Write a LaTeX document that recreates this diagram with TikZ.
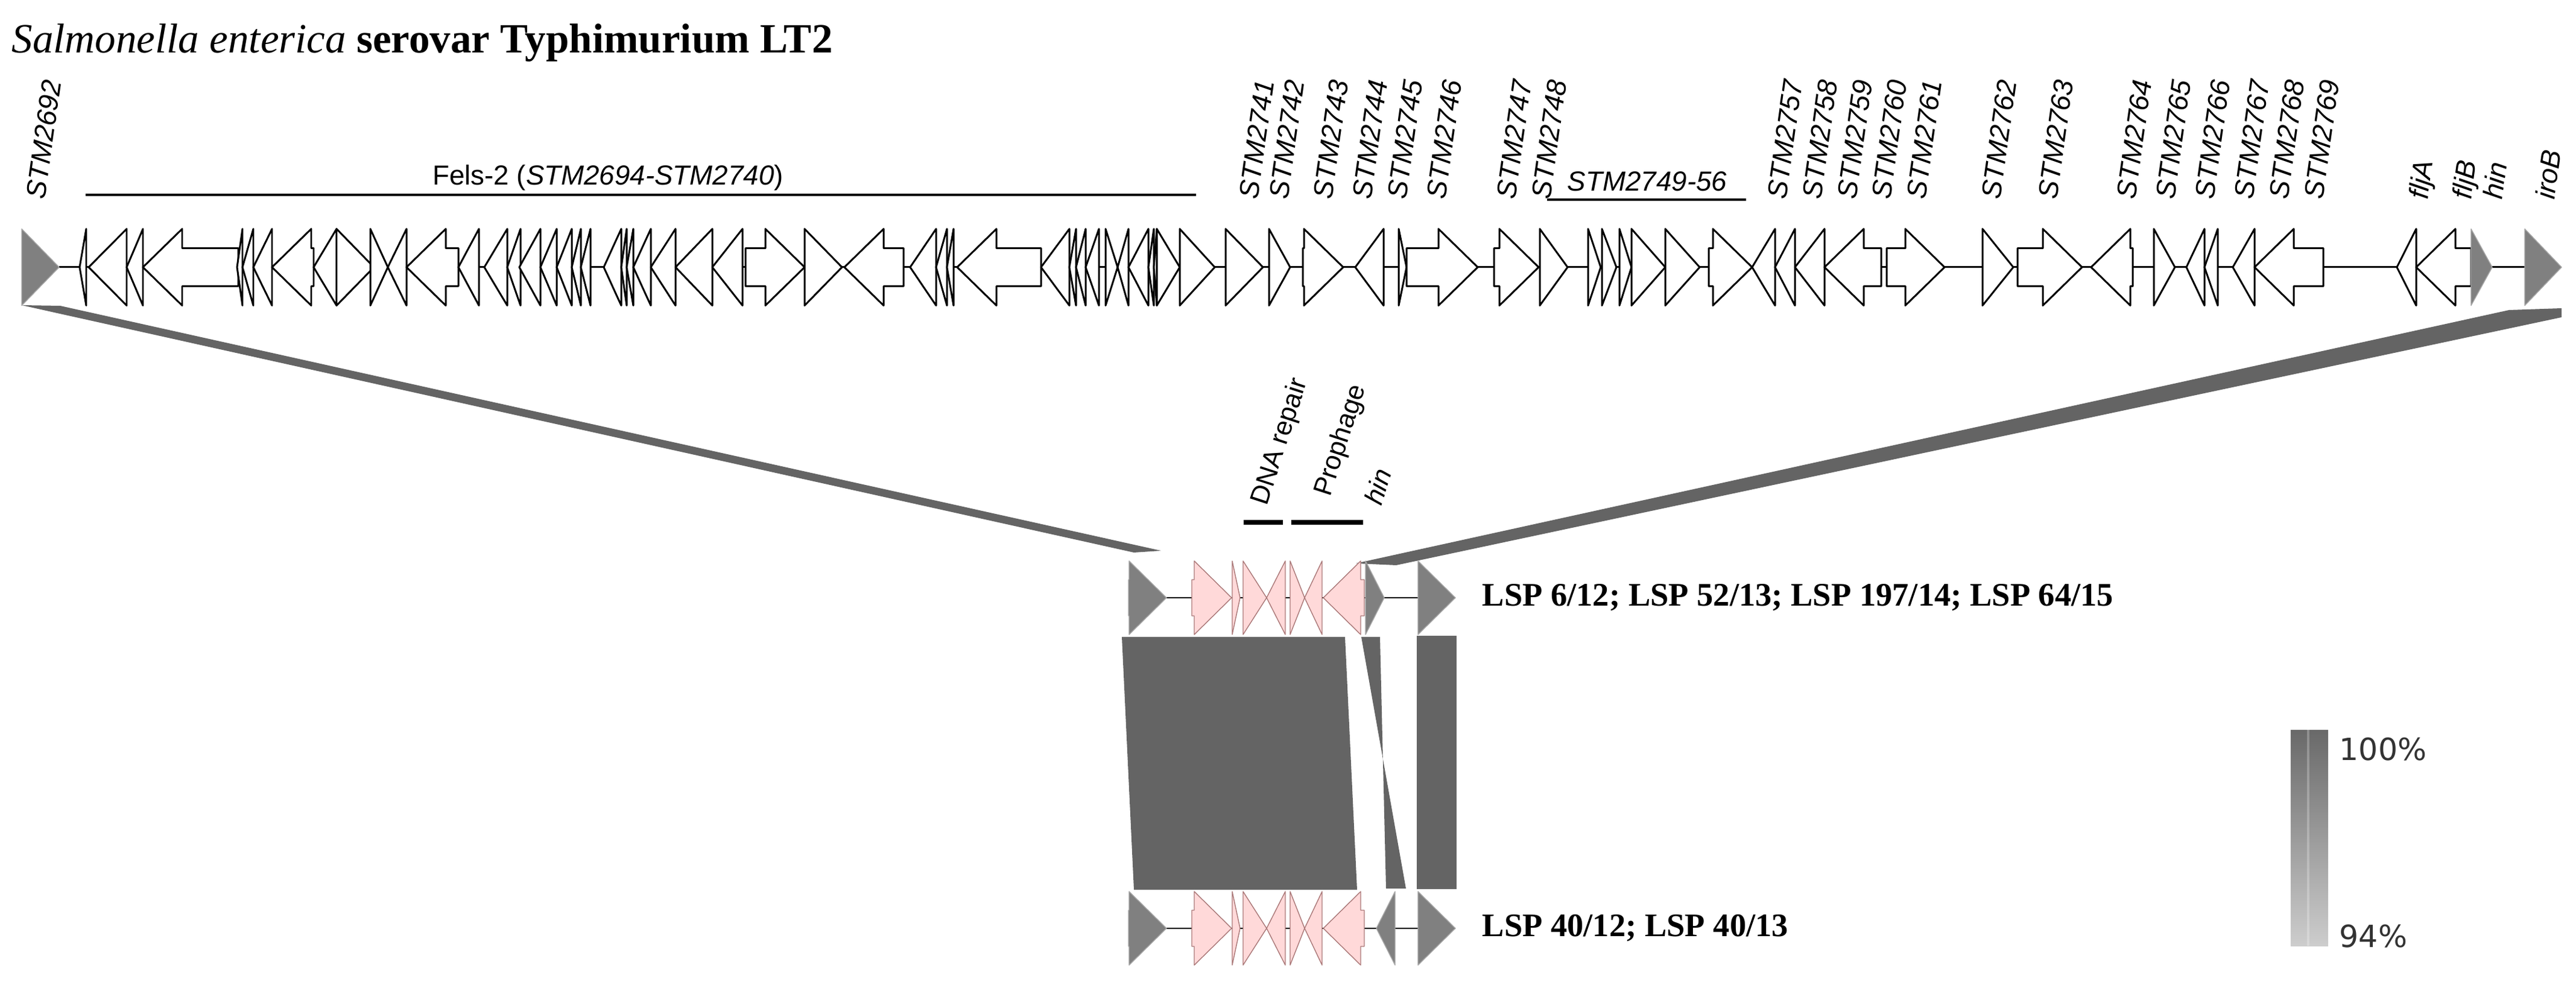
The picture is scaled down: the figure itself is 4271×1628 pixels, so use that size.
\documentclass[tikz,border=0pt]{standalone}
\usepackage{fontspec}
\setmainfont{Liberation Serif}
\setsansfont{Liberation Sans}
\newfontfamily\dejavu{DejaVu Sans}
\definecolor{pinkf}{RGB}{255,217,217}
\definecolor{pinkd}{RGB}{170,120,120}
\definecolor{blk}{RGB}{100,100,100}
\definecolor{greyg}{RGB}{128,128,128}
\tikzset{
  gen/.style={fill=white,draw=black,line width=0.85pt,line join=round},
  grey/.style={fill=greyg,draw=greyg!70,line width=0.4pt},
  pink/.style={fill=pinkf,draw=pinkd,line width=0.4pt},
  glab/.style={font=\fontsize{13}{15}\selectfont\sffamily\itshape,rotate=82,anchor=base west,inner sep=0pt},
  mlab/.style={font=\fontsize{12.5}{14}\selectfont\sffamily,rotate=72,anchor=base west,inner sep=0pt},
  lsp/.style={font=\fontsize{15.5}{18}\selectfont\bfseries,anchor=west,inner sep=0pt},
  band/.style={fill=blk,draw=none},
}
\newcommand\gene[5][]{%
  \pgfmathsetmacro\gL{#3-#2}\pgfmathsetmacro\gH{min(\gL,\hl)}%
  \if r#4
    \draw[gen,#1] (#2,#5-\gs) -- ({#3-\gH},#5-\gs) -- ({#3-\gH},#5-\gh) -- (#3,#5) -- ({#3-\gH},#5+\gh) -- ({#3-\gH},#5+\gs) -- (#2,#5+\gs) -- cycle;
  \else
    \draw[gen,#1] (#3,#5-\gs) -- ({#2+\gH},#5-\gs) -- ({#2+\gH},#5-\gh) -- (#2,#5) -- ({#2+\gH},#5+\gh) -- ({#2+\gH},#5+\gs) -- (#3,#5+\gs) -- cycle;
  \fi}
\begin{document}
\begin{tikzpicture}[x=0.01cm,y=-0.01cm]
\useasboundingbox (0,0) rectangle (4271,1628);
% title
\node[anchor=base west,inner sep=0pt] (title) at (19,88) {\resizebox{13.6cm}{!}{\textit{Salmonella enterica} \textbf{serovar Typhimurium LT2}}};
% bands
\fill[band] (36,506) -- (100,507) -- (1925,913) -- (1880,916) -- cycle;
\fill[band] (2248,934) -- (4160,514) -- (4247,511) -- (4247,526) -- (2315,937) -- cycle;
% top row
\draw[line width=0.85pt] (98,443) -- (4186,443);
\def\gh{63.5}\def\gs{31.5}\def\hl{65}
\gene[grey]{36}{98}{r}{443}
\foreach \a/\b/\d in {132/143/l,147/210/l,210/237/l,237/395/l,393/402/l,402/420/l,420/451/l,451/520/l,520/558/l,558/620/r,614/643/r,643/674/l,674/760/l,760/794/l,803/841/l,841/863/l,861/896/l,896/923/l,923/948/l,948/963/l,963/979/l,1001/1030/l,1030/1039/l,1039/1050/l,1050/1079/l,1079/1120/l,1120/1181/l,1181/1231/l,1236/1334/r,1334/1396/r,1400/1498/l,1509/1552/l,1552/1570/l,1570/1581/l,1587/1726/l,1726/1773/l,1773/1784/l,1784/1800/l,1800/1822/l,1833/1853/r,1853/1871/l,1871/1904/l,1904/1913/l,1913/1918/l,1918/1956/r,1956/2014/r,2032/2094/r,2104/2139/r,2160/2227/r,2247/2294/l,2319/2332/r,2332/2450/r,2477/2551/r,2553/2599/r,2633/2654/r,2656/2680/r,2685/2705/r,2705/2761/r,2761/2818/r,2833/2905/r,2905/2943/l,2943/2976/l,2976/3025/l,3025/3119/l,3128/3224/r,3287/3338/r,3345/3452/r,3467/3536/l,3571/3606/r,3625/3655/l,3655/3677/l,3702/3738/l,3738/3852/l,3974/4006/l,4006/4097/l}
  {\gene{\a}{\b}{\d}{443}}
\gene[grey]{4097}{4132}{r}{443}
\gene[grey]{4186}{4247}{r}{443}
% gene labels
\foreach \x/\t in {40/STM2692,2051/STM2741,2101/STM2742,2174/STM2743,2239/STM2744,2297/STM2745,2362/STM2746,2478/STM2747,2536/STM2748,2927/STM2757,2985/STM2758,3043/STM2759,3100/STM2760,3158/STM2761,3282/STM2762,3376/STM2763,3506/STM2764,3571/STM2765,3636/STM2766,3701/STM2767,3759/STM2768,3817/STM2769,3991/fljA,4063/fljB,4114/hin,4201/iroB}
  \node[glab] (l\t) at (\x+34,332) {\t};
\draw[line width=1.4pt] (142,323) -- (1983,323);
\node[font=\fontsize{13}{15}\selectfont\sffamily,anchor=base,inner sep=0pt] (fels) at (1008,307) {Fels-2 (\textit{STM2694-STM2740})};
\draw[line width=1.4pt] (2565,331) -- (2895,331);
\node[font=\fontsize{13}{15}\selectfont\sffamily\itshape,anchor=base,inner sep=0pt] (s4956) at (2731,317) {STM2749-56};
% middle labels
\node[mlab] (dna) at (2100,840) {DNA repair};
\node[mlab] (pro) at (2205,825) {Prophage};
\node[mlab,font=\fontsize{12.5}{14}\selectfont\sffamily\itshape] (hinl) at (2290,840) {hin};
\draw[line width=2pt] (2062,866) -- (2127,866);
\draw[line width=2pt] (2141,866) -- (2260,866);
% similarity blocks
\fill[blk] (1860,1056) -- (2230,1056) -- (2250,1475) -- (1880,1475) -- cycle;
\fill[blk] (2257,1056) -- (2288,1056) -- (2298,1473) -- (2331,1473) -- cycle;
\fill[blk] (2349,1054) rectangle (2415,1474);
% LSP rows
\def\gh{61}\def\gs{30}\def\hl{62}
\foreach \y in {991,1539}{
  \draw[line width=0.85pt] (1934,\y) -- (2351,\y);
  \gene[grey]{1871}{1934}{r}{\y}
  \foreach \a/\b/\d in {1976/2042/r,2043/2056/r,2061/2100/r,2100/2131/l,2139/2163/r,2163/2192/l,2194/2262/l}
    {\gene[pink]{\a}{\b}{\d}{\y}}
  \gene[grey]{2351}{2413}{r}{\y}
}
\gene[grey]{2264}{2295}{r}{991}
\gene[grey]{2282}{2313}{l}{1539}
\node[lsp] (lspa) at (2457,991) {LSP 6/12; LSP 52/13; LSP 197/14; LSP 64/15};
\node[lsp] (lspb) at (2457,1539) {LSP 40/12; LSP 40/13};
% legend
\shade[top color={rgb,255:red,105;green,105;blue,105},bottom color={rgb,255:red,205;green,205;blue,205}] (3798,1210) rectangle (3860,1568);
\draw[white,opacity=0.25,line width=1pt] (3827,1210) -- (3827,1568);
\node[font=\fontsize{14.4}{16}\selectfont\dejavu,text=black!80,anchor=base west,inner sep=0pt] (p100) at (3878,1260) {100\%};
\node[font=\fontsize{14.4}{16}\selectfont\dejavu,text=black!80,anchor=base west,inner sep=0pt] (p94) at (3878,1570) {94\%};
\end{tikzpicture}
\end{document}
